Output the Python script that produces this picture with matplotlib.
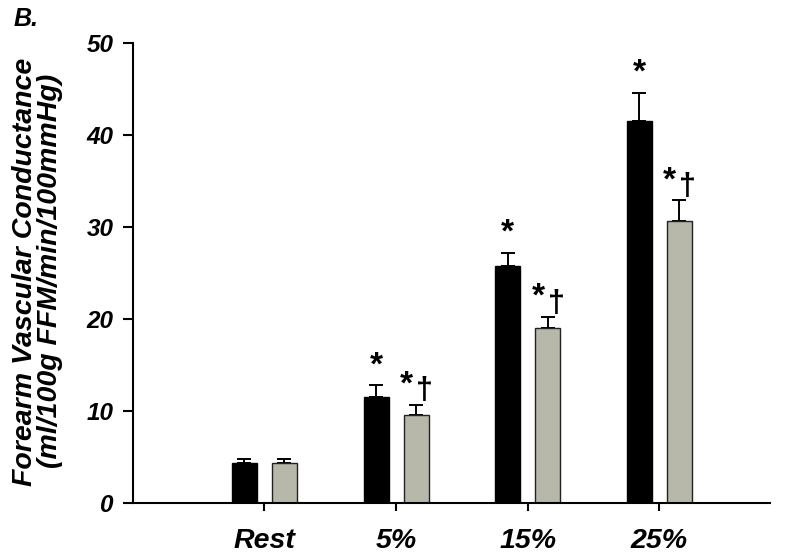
import matplotlib
matplotlib.use("Agg")
import matplotlib.pyplot as plt
import numpy as np

categories = ["Rest", "5%", "15%", "25%"]
black_vals = [4.35, 11.5, 25.8, 41.5]
black_err = [0.45, 1.3, 1.4, 3.1]
gray_vals = [4.3, 9.6, 19.0, 30.7]
gray_err = [0.5, 1.1, 1.2, 2.2]
black_marks = ["", "*", "*", "*"]
gray_marks = ["", "*†", "*†", "*†"]
yticks = [0, 10, 20, 30, 40, 50]

plt.rcParams['font.family'] = ['Liberation Sans', 'DejaVu Sans']
fig = plt.figure(figsize=(8, 5.59), dpi=100)
ax = fig.add_axes([0.166, 0.1002, 0.7965, 0.8228])

x = np.arange(len(categories))
w = 0.19
off = 0.152
gray = '#b7b7aa'
ax.bar(x - off, black_vals, w, color='black', edgecolor='black', linewidth=1, zorder=2)
ax.bar(x + off, gray_vals, w, color=gray, edgecolor='#222222', linewidth=1, zorder=2)
ax.errorbar(x - off, black_vals, yerr=[np.zeros(4), black_err], fmt='none',
            ecolor='black', elinewidth=1.4, capsize=5, capthick=1.4, zorder=1)
ax.errorbar(x + off, gray_vals, yerr=[np.zeros(4), gray_err], fmt='none',
            ecolor='black', elinewidth=1.4, capsize=5, capthick=1.4, zorder=1)

mark_kw = dict(textcoords='offset points', ha='center', va='bottom', fontweight='bold')
for i in range(len(categories)):
    if black_marks[i]:
        ax.annotate(black_marks[i], (x[i] - off, black_vals[i] + black_err[i]),
                    xytext=(0, 3), fontsize=24, **mark_kw)
    if gray_marks[i]:
        top = gray_vals[i] + gray_err[i]
        ax.annotate(gray_marks[i][0], (x[i] + off, top), xytext=(-7, 3),
                    fontsize=24, **mark_kw)
        ax.annotate(gray_marks[i][1], (x[i] + off, top), xytext=(6, -1),
                    fontsize=22, **mark_kw)

ax.set_xlim(-1, 3.84)
ax.set_ylim(0, 50)
ax.set_yticks(yticks)
ax.set_yticklabels([str(t) for t in yticks], fontsize=17.5, fontweight='bold', style='italic')
ax.set_xticks(x)
ax.set_xticklabels(categories, fontsize=20.5, fontweight='bold', style='italic')
for s in ['top', 'right']:
    ax.spines[s].set_visible(False)
for s in ['left', 'bottom']:
    ax.spines[s].set_linewidth(1.5)
ax.tick_params(axis='y', direction='out', length=7, width=1.5, pad=7)
ax.tick_params(axis='x', direction='out', length=6, width=1.5, pad=12)

fig.text(0.04, 0.513, "Forearm Vascular Conductance", rotation=90, rotation_mode='anchor',
         ha='center', va='baseline', fontsize=20.5, fontweight='bold', style='italic')
fig.text(0.071, 0.515, "(ml/100g FFM/min/100mmHg)", rotation=90, rotation_mode='anchor',
         ha='center', va='baseline', fontsize=20.5, fontweight='bold', style='italic')
fig.text(0.017, 0.953, "B.", ha='left', va='baseline', fontsize=18, fontweight='bold', style='italic')

fig.savefig("out.png", dpi=100)
